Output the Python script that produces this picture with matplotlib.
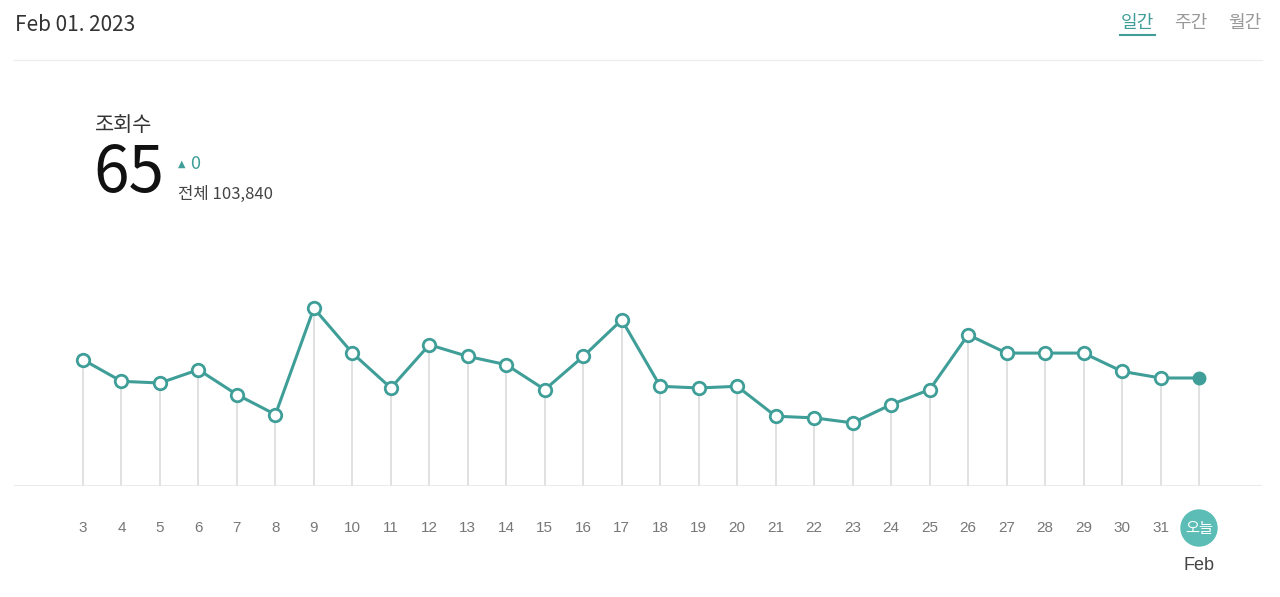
import matplotlib
matplotlib.use("Agg")
import matplotlib.pyplot as plt

plt.rcParams['font.family'] = ['Noto Sans CJK KR', 'DejaVu Sans']

# daily views, Jan 3 .. Feb 1
days = ["3", "4", "5", "6", "7", "8", "9", "10", "11", "12", "13", "14", "15", "16", "17",
        "18", "19", "20", "21", "22", "23", "24", "25", "26", "27", "28", "29", "30", "31"]
views = [76, 63, 62, 70, 55, 43, 107, 80, 59, 85, 78, 73, 58, 78, 100,
         60, 59, 60, 42, 41, 38, 49, 58, 91, 80, 80, 80, 69, 65, 65]
today_label = "오늘"
month_label = "Feb"
total = "103,840"

teal = "#3f9f98"
W, H = 1280, 597
fig = plt.figure(figsize=(W / 100, H / 100), dpi=100)

def fx(px):
    return px / W

def fy(py):
    return 1 - py / H

# chart axes: baseline at y=486px, points spaced 38.48px starting at x=83
step = (1199 - 83) / 29
ax = fig.add_axes([fx(14), fy(486), fx(1262 - 14), fy(250) - fy(486)])
ax.set_xlim(-(83 - 14) / step, 29 + (1262 - 1199) / step)
scale = 65 / 108
ax.set_ylim(0, (486 - 250) * scale)
ax.axis("off")
ax.axhline(0, color="#e6e6e6", lw=1.2)

xs = list(range(len(views)))
ax.vlines(xs, 0, views, color="#dcdcdc", lw=1.2, zorder=1)
ax.plot(xs, views, color=teal, lw=2.2, zorder=2)
ax.plot(xs[:-1], views[:-1], "o", ms=9, mfc="white", mec=teal, mew=2, zorder=3)
ax.plot(xs[-1], views[-1], "o", ms=9, mfc=teal, mec=teal, zorder=3)

for i, d in enumerate(days):
    fig.text(fx(83 + i * step), fy(528), d, ha="center", va="center", fontsize=11,
             color="#777777", family=["Liberation Sans", "DejaVu Sans"])
cx = 83 + 29 * step
fig.patches.append(matplotlib.patches.Ellipse((fx(cx), fy(528)), 36 / W, 36 / H,
                                               transform=fig.transFigure, color="#5bbdb5"))
fig.text(fx(cx), fy(528), today_label, ha="center", va="center", fontsize=11, color="white")
fig.text(fx(cx), fy(565), month_label, ha="center", va="center", fontsize=13, color="#444444",
         family=["Liberation Sans", "DejaVu Sans"])

# header
fig.text(fx(15), fy(25), "Feb 01. 2023", ha="left", va="center", fontsize=15, color="#333333",
         fontweight="light")
fig.add_artist(matplotlib.lines.Line2D([fx(14), fx(1262)], [fy(60), fy(60)], color="#eeeeee", lw=1))
fig.text(fx(1137), fy(23), "일간", ha="center", va="center", fontsize=13, color=teal)
fig.add_artist(matplotlib.lines.Line2D([fx(1120), fx(1155)], [fy(35), fy(35)], color=teal, lw=1.5))
fig.text(fx(1191), fy(23), "주간", ha="center", va="center", fontsize=13, color="#999999")
fig.text(fx(1245), fy(23), "월간", ha="center", va="center", fontsize=13, color="#999999")

# summary
fig.text(fx(95), fy(125), "조회수", ha="left", va="center", fontsize=15, color="#333333")
fig.text(fx(93), fy(174), str(views[-1]), ha="left", va="center", fontsize=46, color="#111111",
         fontweight="light")
fig.text(fx(178), fy(164), "▲", ha="left", va="center", fontsize=7, color=teal,
         family=["DejaVu Sans"])
fig.text(fx(190), fy(164), "0", ha="left", va="center", fontsize=13, color=teal)
fig.text(fx(178), fy(194), "전체 " + total, ha="left", va="center", fontsize=12, color="#444444")

fig.savefig("out.png", dpi=100, facecolor="white")
